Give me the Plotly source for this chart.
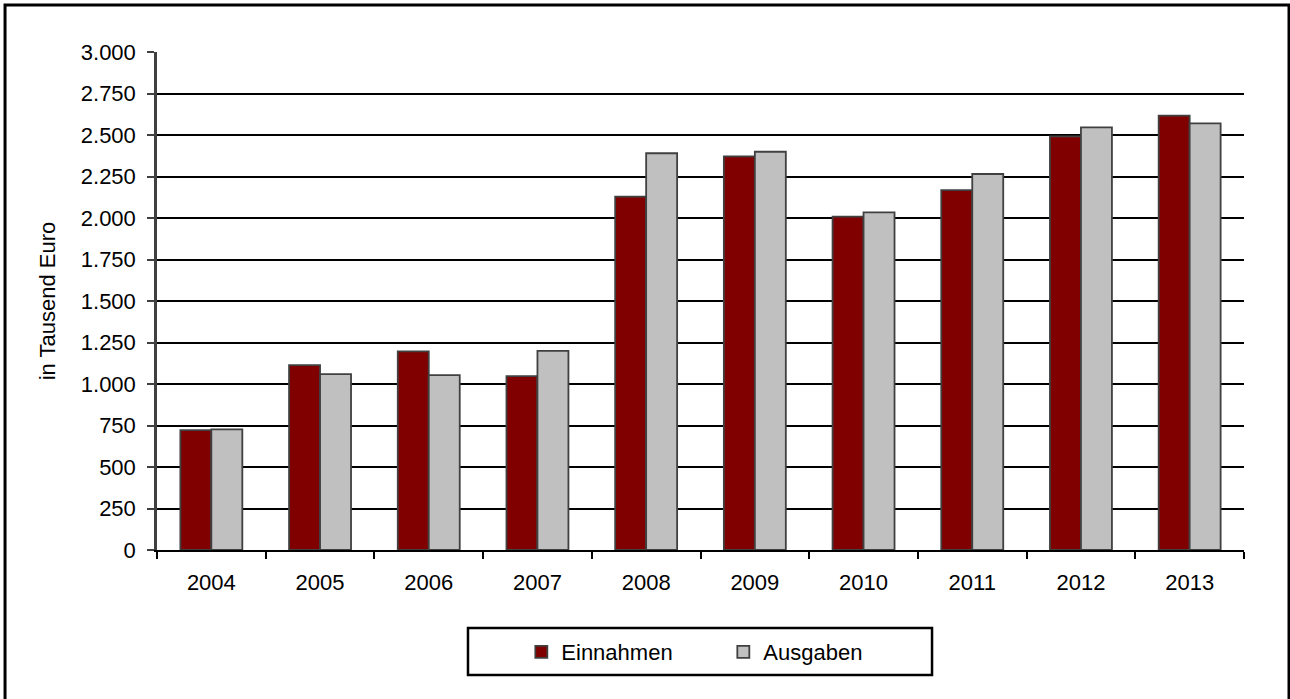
import plotly.graph_objects as go

years = ["2004", "2005", "2006", "2007", "2008", "2009", "2010", "2011", "2012", "2013"]
einnahmen = [722, 1114, 1196, 1048, 2129, 2371, 2008, 2168, 2492, 2617]
ausgaben = [727, 1060, 1054, 1199, 2390, 2399, 2034, 2265, 2546, 2570]
y_ticks = list(range(0, 3001, 250))

FONT = "Liberation Sans, Arial, sans-serif"
FS = 22

fig = go.Figure()
fig.add_trace(go.Bar(x=years, y=einnahmen, name="Einnahmen",
                     marker=dict(color="#800000", line=dict(color="#404040", width=1.8))))
fig.add_trace(go.Bar(x=years, y=ausgaben, name="Ausgaben",
                     marker=dict(color="#C0C0C0", line=dict(color="#404040", width=1.8))))

fig.update_layout(
    width=1290, height=699,
    margin=dict(l=157, r=46, t=52, b=149),
    paper_bgcolor="white", plot_bgcolor="white",
    font=dict(family=FONT, size=FS, color="black"),
    separators=",.",
    barmode="group", bargap=0.43, bargroupgap=0,
    showlegend=True,
    legend=dict(orientation="h", x=0.521, xanchor="center", y=-0.205, yanchor="middle",
                entrywidth=157, font=dict(family=FONT, size=FS), bgcolor="rgba(0,0,0,0)",
                traceorder="normal"),
    xaxis=dict(type="category", showline=True, linecolor="black", linewidth=2,
               ticks="outside", tickson="boundaries", ticklen=7, tickcolor="black", tickwidth=2,
               showgrid=False, zeroline=False, ticklabelstandoff=12),
    yaxis=dict(range=[0, 3000], tickvals=y_ticks, tickformat=",d",
               showline=True, linecolor="#404040", linewidth=2.5,
               ticks="outside", ticklen=7, tickcolor="#404040", tickwidth=2,
               showgrid=True, gridcolor="black", gridwidth=1.5, zeroline=False,
               ticklabelstandoff=7,
               title=dict(text="in Tausend Euro", font=dict(family=FONT, size=FS), standoff=20)),
    shapes=[
        dict(type="rect", xref="paper", yref="paper", x0=-0.1398, x1=1.0414, y0=-0.32, y1=1.0944,
             line=dict(color="black", width=3), fillcolor="rgba(0,0,0,0)", layer="below"),
        dict(type="rect", xref="paper", yref="paper", x0=0.2861, x1=0.7130, y0=-0.251, y1=-0.1566,
             line=dict(color="black", width=2.5), fillcolor="rgba(0,0,0,0)"),
    ],
)

fig.write_html("out.html", config={"displayModeBar": False},
               post_script="document.body.style.margin='0';document.body.style.overflow='hidden';")
